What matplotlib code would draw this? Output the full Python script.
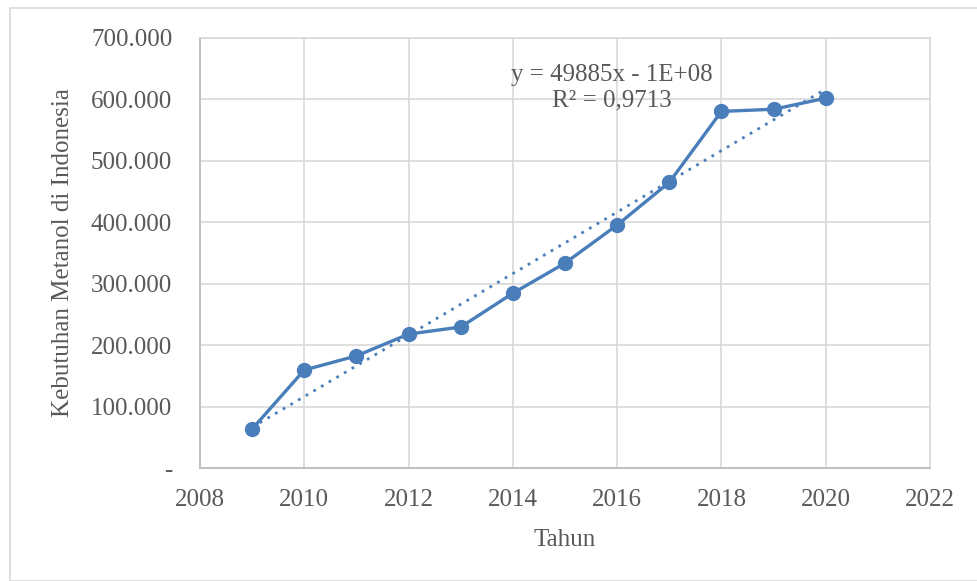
import numpy as np
import matplotlib
matplotlib.use("Agg")
import matplotlib.pyplot as plt
from matplotlib.ticker import FuncFormatter, MultipleLocator
from matplotlib.patches import Rectangle

years = [2009, 2010, 2011, 2012, 2013, 2014, 2015, 2016, 2017, 2018, 2019, 2020]
demand = [63500, 159500, 182500, 218000, 229500, 284500, 333500, 395500, 465000, 580500, 584000, 602000]
x_label = "Tahun"
y_label = "Kebutuhan Metanol di Indonesia"
trend_text = "y = 49885x - 1E+08\nR² = 0,9713"

plt.rcParams['font.family'] = ['Liberation Serif', 'DejaVu Serif']
color = "#4A7EBB"
txt = "#595959"
fs = 18

fig = plt.figure(figsize=(9.77, 5.81), dpi=100)
fig.patches.append(Rectangle((10/977, 0), 1, 1 - 8/581, transform=fig.transFigure,
                             fill=False, edgecolor="#d9d9d9", linewidth=1.2))
ax = fig.add_axes([200/977, 1 - 468/581, 730/977, 430/581])

ax.plot(years, demand, color=color, linewidth=2.4, marker='o', markersize=10, zorder=3)
coef = np.polyfit(years, demand, 1)
xs = np.array([years[0], years[-1]])
ax.plot(xs, np.polyval(coef, xs), color=color, linewidth=2, linestyle=(0, (1, 2.2)), zorder=2)

ax.set_xlim(2008, 2022)
ax.set_ylim(0, 700000)
ax.xaxis.set_major_locator(MultipleLocator(2))
ax.yaxis.set_major_locator(MultipleLocator(100000))
ax.yaxis.set_major_formatter(FuncFormatter(
    lambda v, p: "-" if v == 0 else f"{int(v):,}".replace(",", ".")))
ax.grid(True, color="#d9d9d9", linewidth=1.2)
ax.set_axisbelow(True)
for s in ['top', 'right']:
    ax.spines[s].set_color("#d9d9d9")
    ax.spines[s].set_linewidth(1.2)
for s in ['left', 'bottom']:
    ax.spines[s].set_color("#bfbfbf")
    ax.spines[s].set_linewidth(1.4)
ax.tick_params(length=0, labelsize=fs, labelcolor=txt)
ax.tick_params(axis='y', pad=20)
ax.tick_params(axis='x', pad=15)
ax.set_xlabel(x_label, fontsize=fs, color=txt, labelpad=13)
ax.set_ylabel(y_label, fontsize=fs, color=txt, labelpad=12)

ax.text(2015.9, 619000, trend_text, ha='center', va='center', fontsize=fs,
        color=txt, linespacing=1.18)

fig.savefig("out.png", dpi=100)
